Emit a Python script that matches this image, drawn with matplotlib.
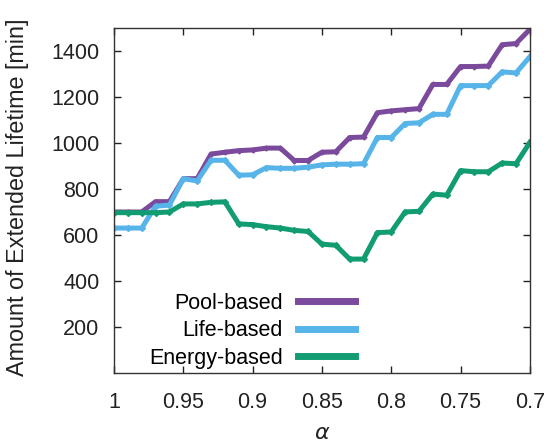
import matplotlib
matplotlib.use('Agg')
import matplotlib.pyplot as plt

plt.rcParams['font.family'] = ['Liberation Sans', 'DejaVu Sans']

alpha = [1.00, 0.99, 0.98, 0.97, 0.96, 0.95, 0.94, 0.93, 0.92, 0.91, 0.90,
         0.89, 0.88, 0.87, 0.86, 0.85, 0.84, 0.83, 0.82, 0.81, 0.80,
         0.79, 0.78, 0.77, 0.76, 0.75, 0.74, 0.73, 0.72, 0.71, 0.70]

pool_based = [700, 700, 700, 745, 745, 845, 845, 952, 960, 967, 970,
              978, 978, 924, 924, 960, 962, 1024, 1026, 1132, 1140,
              1145, 1150, 1255, 1255, 1333, 1333, 1335, 1428, 1433, 1495]

life_based = [630, 630, 630, 725, 730, 845, 835, 925, 925, 860, 862,
              893, 890, 890, 895, 905, 908, 908, 910, 1024, 1024,
              1085, 1088, 1125, 1125, 1250, 1250, 1250, 1310, 1305, 1376]

energy_based = [697, 697, 697, 697, 700, 735, 735, 742, 744, 648, 645,
                636, 630, 620, 615, 560, 555, 495, 495, 610, 613,
                700, 703, 778, 773, 880, 875, 875, 913, 910, 1003]

x_ticks = [1, 0.95, 0.9, 0.85, 0.8, 0.75, 0.7]
x_tick_labels = ['1', '0.95', '0.9', '0.85', '0.8', '0.75', '0.7']
y_ticks = [200, 400, 600, 800, 1000, 1200, 1400]

fig = plt.figure(figsize=(5.56, 4.47), dpi=100)
ax = fig.add_axes([0.205, 0.166, 0.748, 0.771])

ax.plot(alpha, pool_based, color='#7b4a9c', lw=3.6, marker='D', markersize=2.5,
        label='Pool-based')
ax.plot(alpha, life_based, color='#56b4e9', lw=3.6, marker='D', markersize=3,
        label='Life-based')
ax.plot(alpha, energy_based, color='#119c72', lw=3.6, marker='D', markersize=3,
        label='Energy-based')

ax.set_xlim(1, 0.7)
ax.set_ylim(0, 1500)
ax.set_xticks(x_ticks)
ax.set_xticklabels(x_tick_labels)
ax.set_yticks(y_ticks)
ax.tick_params(direction='in', top=True, right=True, length=5, width=1,
               labelsize=15.5, colors='#222222')
ax.tick_params(axis='x', pad=13.5)
ax.tick_params(axis='y', pad=10.5)
for s in ax.spines.values():
    s.set_linewidth(1.0)
    s.set_color('#333333')

ax.set_ylabel('Amount of Extended Lifetime [min]', fontsize=16.8, color='#222222',
              va='center')
ax.yaxis.set_label_coords(-0.232, 0.51)
ax.set_xlabel(r'$\alpha$', fontsize=16, color='#222222', va='center')
ax.xaxis.set_label_coords(0.5, -0.175)

leg = ax.legend(loc='center right', bbox_to_anchor=(0.579, 0.122), frameon=False,
                markerfirst=False, fontsize=15.5, handlelength=2.65,
                labelspacing=0.3, handletextpad=0.7, borderpad=0,
                borderaxespad=0)
for line in leg.get_lines():
    line.set_linewidth(5)

fig.savefig('out.png', dpi=100)
